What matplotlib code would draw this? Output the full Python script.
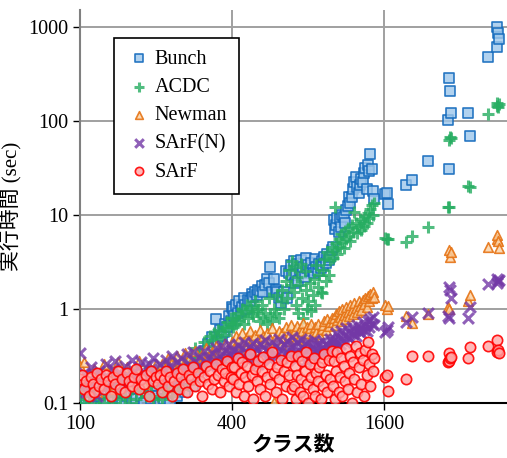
import matplotlib
matplotlib.use("Agg")
import matplotlib.pyplot as plt

plt.rcParams['font.family'] = ['Liberation Serif', 'Noto Sans CJK JP']

# number of classes per project (shared by all algorithms)
classes = [100, 102, 104, 106, 108, 110, 112, 114, 117, 119, 121, 124, 127, 129, 132, 135, 138, 141, 144, 147,
           150, 153, 156, 160, 163, 167, 171, 175, 179, 183, 187, 191, 195, 199,
           203, 207, 211, 215, 219, 223, 227, 232, 236, 241, 246, 250, 255, 260, 265, 270, 275, 281, 286, 292,
           298, 304, 310, 316, 322, 328, 334, 340, 346, 352, 358, 364, 370, 376, 382, 388, 394, 398,
           403, 408, 414, 420, 426, 432, 438, 444, 450, 457, 464, 471, 478, 485, 492, 500, 508, 516, 524, 532,
           540, 549, 558, 567, 576, 585, 594, 603, 612, 622, 632, 642, 652, 662, 672, 682, 692,
           700, 708, 716, 724, 732, 740, 748, 757, 766, 775, 784, 793, 802, 812, 822, 832, 842, 852, 862, 873,
           884, 895, 906, 917, 928, 940, 952, 964, 976, 990,
           1000, 1010, 1020, 1032, 1044, 1056, 1068, 1080, 1093, 1106, 1120, 1134, 1148, 1162, 1176, 1190,
           1205, 1220, 1235, 1250, 1266, 1282, 1298, 1314, 1330, 1346, 1362, 1378, 1394, 1410, 1425, 1440, 1455,
           1614, 1640, 1659, 1955, 2065, 2389, 2870, 2890, 2900, 2920, 2950, 3440, 3500, 4130, 4470, 4480, 4520, 4560]

# execution time (sec)
bunch = [0.12, 0.09, 0.14, 0.11, 0.13, 0.09, 0.14, 0.10, 0.12, 0.15, 0.09, 0.11, 0.10, 0.16, 0.13, 0.12, 0.09, 0.14, 0.11, 0.10,
         0.13, 0.12, 0.15, 0.10, 0.14, 0.11, 0.16, 0.12, 0.10, 0.13, 0.15, 0.11, 0.14, 0.12,
         0.12, 0.10, 0.14, 0.11, 0.16, 0.13, 0.10, 0.15, 0.18, 0.12, 0.14, 0.20, 0.16, 0.13, 0.22, 0.18, 0.25, 0.15, 0.28, 0.20,
         0.32, 0.24, 0.36, 0.28, 0.42, 0.33, 0.50, 0.38, 0.78, 0.45, 0.60, 0.52, 0.57, 0.70, 0.65, 0.85, 0.75, 1.05,
         1.0, 0.85, 1.1, 0.9, 1.2, 0.95, 1.05, 1.3, 1.1, 1.0, 1.25, 1.2, 1.45, 1.35, 1.5, 1.4, 1.6, 1.55, 1.75, 1.5,
         1.8, 2.1, 1.9, 2.8, 1.5, 2.1, 1.6, 1.5, 1.3, 1.16, 1.34, 1.5, 2.5, 1.3, 2.4, 2.9, 2.3,
         3.2, 1.9, 2.3, 3.0, 2.0, 2.6, 3.3, 2.4, 2.8, 2.2, 3.5, 2.7, 2.9, 2.5, 3.1, 2.6, 2.4, 3.4, 2.8, 2.5,
         3.0, 2.7, 3.2, 2.9, 3.6, 3.1, 3.8, 3.3, 3.6, 4.2,
         4.5, 8.8, 7.0, 7.8, 9.3, 6.5, 9.0, 7.5, 10.0, 9.5, 8.2, 11.2, 12.5, 15.5, 13.4, 15.5,
         19.0, 22.5, 25.5, 19.8, 17.0, 21.0, 24.0, 22.5, 28.0, 31.4, 19.0, 34.0, 29.0, 43.8, 30.5, 17.9, 14.9,
         16.7, 17.0, 13.1, 20.8, 23.6, 37, 103, 287, 31, 209, 122, 122, 69, 480, 602, 993, 863, 745]
acdc = [0.11, 0.14, 0.10, 0.17, 0.12, 0.15, 0.10, 0.13, 0.19, 0.11, 0.16, 0.10, 0.14, 0.12, 0.18, 0.10, 0.15, 0.13, 0.11, 0.20,
        0.12, 0.17, 0.10, 0.14, 0.22, 0.11, 0.16, 0.13, 0.19, 0.12, 0.24, 0.15, 0.11, 0.18,
        0.12, 0.16, 0.11, 0.14, 0.19, 0.13, 0.17, 0.12, 0.21, 0.15, 0.24, 0.18, 0.14, 0.27, 0.20, 0.16, 0.30, 0.22, 0.38, 0.25,
        0.33, 0.28, 0.45, 0.35, 0.40, 0.52, 0.47, 0.55, 0.50, 0.60, 0.48, 0.58, 0.65, 0.53, 0.72, 0.62, 0.80, 0.70,
        0.65, 0.8, 0.7, 0.9, 0.75, 0.85, 1.0, 0.7, 0.95, 1.1, 0.8, 1.05, 0.9, 0.85, 1.2, 0.95, 1.0, 0.75, 1.1, 0.8,
        0.9, 0.7, 1.3, 0.85, 0.75, 1.0, 0.9, 1.4, 0.8, 1.2, 1.6, 1.0, 2.0, 1.3, 2.6, 1.8, 3.2,
        1.5, 2.8, 1.1, 2.2, 0.9, 1.8, 3.0, 1.3, 0.8, 2.5, 1.6, 1.0, 1.2, 1.9, 0.95, 1.4, 2.1, 1.1, 2.9, 1.7,
        2.3, 1.5, 1.48, 2.6, 3.4, 2.0, 4.0, 2.3, 3.3, 4.5,
        3.5, 4.2, 12.1, 5.0, 3.8, 5.6, 4.6, 6.2, 5.1, 4.4, 6.8, 5.5, 7.2, 6.0, 5.3, 7.8,
        6.6, 10.8, 8.1, 6.4, 7.4, 9.0, 6.9, 8.5, 7.6, 9.8, 8.2, 10.5, 9.2, 11.5, 12.8, 10.0, 13.5,
        5.7, 5.5, 5.6, 5.16, 5.98, 7.45, 12.2, 63, 12.0, 68, 66, 20.3, 20.0, 119, 145, 155, 141, 150]
newman = [0.25, 0.18, 0.27, 0.14, 0.21, 0.16, 0.19, 0.23, 0.13, 0.17, 0.20, 0.26, 0.15, 0.18, 0.22, 0.14, 0.19, 0.27, 0.16, 0.21,
          0.18, 0.24, 0.15, 0.20, 0.17, 0.23, 0.28, 0.19, 0.16, 0.22, 0.25, 0.18, 0.21, 0.26,
          0.22, 0.18, 0.26, 0.20, 0.24, 0.30, 0.19, 0.27, 0.23, 0.32, 0.21, 0.28, 0.25, 0.34, 0.22, 0.30, 0.27, 0.24, 0.36, 0.29,
          0.26, 0.33, 0.28, 0.38, 0.31, 0.27, 0.35, 0.30, 0.40, 0.33, 0.29, 0.37, 0.32, 0.42, 0.35, 0.31, 0.39, 0.45,
          0.45, 0.38, 0.52, 0.42, 0.48, 0.35, 0.55, 0.44, 0.40, 0.50, 0.46, 0.58, 0.41, 0.49, 0.53, 0.37, 0.47, 0.60, 0.43, 0.51,
          0.45, 0.56, 0.39, 0.48, 0.62, 0.102, 0.52, 0.47, 0.58, 0.42, 0.55, 0.49, 0.64, 0.46, 0.53, 0.68, 0.50,
          0.52, 0.60, 0.48, 0.66, 0.55, 0.50, 0.63, 0.58, 0.71, 0.53, 0.47, 0.65, 0.56, 0.62, 0.69, 0.51, 0.59, 0.64, 0.57, 0.70,
          0.54, 0.33, 0.61, 0.68, 0.74, 0.60, 0.78, 0.66, 0.72, 0.80,
          0.72, 0.80, 0.68, 0.88, 0.76, 0.95, 0.83, 0.74, 1.0, 0.86, 0.79, 1.05, 0.92, 0.84, 1.1, 0.97,
          0.88, 1.15, 1.02, 0.93, 1.2, 1.08, 0.98, 1.25, 1.12, 1.3, 1.05, 1.38, 1.2, 1.45, 1.3, 1.5, 1.35,
          1.10, 1.0, 1.08, 0.84, 0.71, 0.88, 1.05, 4.24, 1.0, 3.57, 4.0, 1.22, 1.41, 4.57, 5.6, 6.1, 5.3, 4.45]
sarfn = [0.34, 0.16, 0.21, 0.13, 0.18, 0.24, 0.15, 0.20, 0.12, 0.22, 0.17, 0.14, 0.26, 0.19, 0.16, 0.23, 0.28, 0.18, 0.21, 0.15,
         0.25, 0.20, 0.17, 0.29, 0.22, 0.19, 0.24, 0.27, 0.21, 0.18, 0.26, 0.23, 0.30, 0.20,
         0.20, 0.26, 0.17, 0.23, 0.29, 0.19, 0.25, 0.32, 0.22, 0.27, 0.18, 0.30, 0.24, 0.21, 0.33, 0.26, 0.23, 0.35, 0.28, 0.25,
         0.31, 0.22, 0.36, 0.27, 0.30, 0.24, 0.34, 0.29, 0.38, 0.26, 0.32, 0.40, 0.28, 0.35, 0.31, 0.42, 0.33, 0.37,
         0.30, 0.36, 0.27, 0.41, 0.33, 0.29, 0.38, 0.45, 0.31, 0.35, 0.28, 0.40, 0.34, 0.43, 0.30, 0.37, 0.26, 0.42, 0.33, 0.39,
         0.47, 0.31, 0.36, 0.29, 0.44, 0.34, 0.40, 0.32, 0.48, 0.37, 0.30, 0.42, 0.35, 0.46, 0.33, 0.39, 0.50,
         0.33, 0.40, 0.29, 0.45, 0.36, 0.31, 0.48, 0.38, 0.34, 0.42, 0.28, 0.37, 0.44, 0.32, 0.39, 0.35, 0.47, 0.30, 0.41, 0.36,
         0.43, 0.33, 0.38, 0.46, 0.35, 0.42, 0.40, 0.37, 0.48, 0.44,
         0.40, 0.48, 0.38, 0.55, 0.44, 0.50, 0.42, 0.58, 0.47, 0.53, 0.45, 0.62, 0.50, 0.57, 0.48, 0.65,
         0.54, 0.60, 0.52, 0.68, 0.58, 0.63, 0.55, 0.72, 0.60, 0.66, 0.58, 0.75, 0.64, 0.78, 0.70, 0.82, 0.68,
         0.57, 0.6, 0.64, 0.73, 0.82, 0.91, 0.84, 1.71, 0.80, 1.59, 1.31, 0.80, 1.05, 1.85, 1.9, 2.08, 2.0, 2.04]
sarf = [0.18, 0.20, 0.14, 0.17, 0.12, 0.19, 0.16, 0.13, 0.21, 0.15, 0.18, 0.14, 0.20, 0.17, 0.12, 0.19, 0.16, 0.22, 0.14, 0.18,
        0.13, 0.21, 0.17, 0.15, 0.19, 0.23, 0.14, 0.18, 0.16, 0.20, 0.12, 0.22, 0.17, 0.19,
        0.16, 0.20, 0.13, 0.18, 0.22, 0.15, 0.19, 0.12, 0.17, 0.21, 0.14, 0.19, 0.23, 0.16, 0.13, 0.20, 0.18, 0.24, 0.15, 0.21,
        0.17, 0.12, 0.19, 0.25, 0.16, 0.22, 0.14, 0.18, 0.26, 0.20, 0.13, 0.23, 0.17, 0.21, 0.28, 0.15, 0.19, 0.24,
        0.18, 0.24, 0.13, 0.30, 0.16, 0.21, 0.27, 0.12, 0.19, 0.25, 0.15, 0.33, 0.20, 0.11, 0.23, 0.17, 0.28, 0.14, 0.22, 0.31,
        0.12, 0.19, 0.26, 0.16, 0.35, 0.21, 0.13, 0.24, 0.18, 0.29, 0.11, 0.22, 0.15, 0.27, 0.20, 0.32, 0.14,
        0.15, 0.25, 0.11, 0.20, 0.32, 0.13, 0.18, 0.28, 0.12, 0.22, 0.35, 0.16, 0.10, 0.26, 0.19, 0.14, 0.30, 0.12, 0.21, 0.17,
        0.24, 0.11, 0.27, 0.15, 0.33, 0.20, 0.13, 0.29, 0.18, 0.36,
        0.15, 0.28, 0.11, 0.22, 0.35, 0.13, 0.19, 0.30, 0.12, 0.25, 0.17, 0.38, 0.14, 0.21, 0.32, 0.10,
        0.27, 0.18, 0.40, 0.13, 0.24, 0.34, 0.16, 0.29, 0.12, 0.37, 0.20, 0.45, 0.26, 0.15, 0.33, 0.22, 0.30,
        0.19, 0.2, 0.134, 0.18, 0.32, 0.32, 0.27, 0.34, 0.28, 0.30, 0.31, 0.30, 0.39, 0.40, 0.35, 0.47, 0.37, 0.34]

xticks = [100, 400, 1600]
yticks = [0.1, 1, 10, 100, 1000]

fig = plt.figure(figsize=(5.07, 4.58), dpi=100)
ax = fig.add_axes([0.158, 0.12, 0.842, 0.858])

ax.scatter(classes, bunch, marker='s', s=42, facecolor=(0.62, 0.78, 0.92, 0.8),
           edgecolor=(0.08, 0.42, 0.74, 0.9), linewidths=1.2, label='Bunch', zorder=3)
ax.scatter(classes, acdc, marker='+', s=70, color=(0.15, 0.68, 0.38, 0.8),
           linewidths=2.2, label='ACDC', zorder=3)
ax.scatter(classes, newman, marker='^', s=48, facecolor=(0.98, 0.82, 0.64, 0.8),
           edgecolor=(0.90, 0.45, 0.08, 0.9), linewidths=1.2, label='Newman', zorder=3)
ax.scatter(classes, sarfn, marker='x', s=60, color=(0.45, 0.22, 0.65, 0.8),
           linewidths=2.2, label='SArF(N)', zorder=3)
ax.scatter(classes, sarf, marker='o', s=55, facecolor=(1.0, 0.65, 0.65, 0.8),
           edgecolor=(1.0, 0.0, 0.0, 0.9), linewidths=1.2, label='SArF', zorder=3)

ax.set_xscale('log')
ax.set_yscale('log')
ax.set_xlim(100, 4900)
ax.set_ylim(0.1, 1500)
ax.set_xticks(xticks)
ax.set_xticklabels([str(t) for t in xticks])
ax.set_yticks(yticks)
ax.set_yticklabels(['0.1', '1', '10', '100', '1000'])
ax.minorticks_off()
ax.tick_params(labelsize=14.5, direction='out', length=5, width=1, color='black')
ax.grid(True, color='#a0a0a0', linewidth=1.4, zorder=0)
ax.set_axisbelow(True)

for side in ['top', 'right']:
    ax.spines[side].set_visible(False)
ax.spines['left'].set_color('#808080')
ax.spines['left'].set_linewidth(1.5)
ax.spines['bottom'].set_color('black')
ax.spines['bottom'].set_linewidth(1.5)

ax.set_xlabel('クラス数', fontsize=15, fontweight='bold', labelpad=2)
ax.set_ylabel('実行時間 (sec)', fontsize=15, labelpad=4)

leg = ax.legend(loc='upper left', bbox_to_anchor=(0.08, 0.93), borderaxespad=0, fontsize=14.5,
                frameon=True, fancybox=False, edgecolor='black', framealpha=1, markerscale=0.8,
                handletextpad=0.1, labelspacing=0.45, borderpad=0.6, handlelength=1.3)
leg.get_frame().set_linewidth(1.2)

fig.savefig('out.png', dpi=100)
